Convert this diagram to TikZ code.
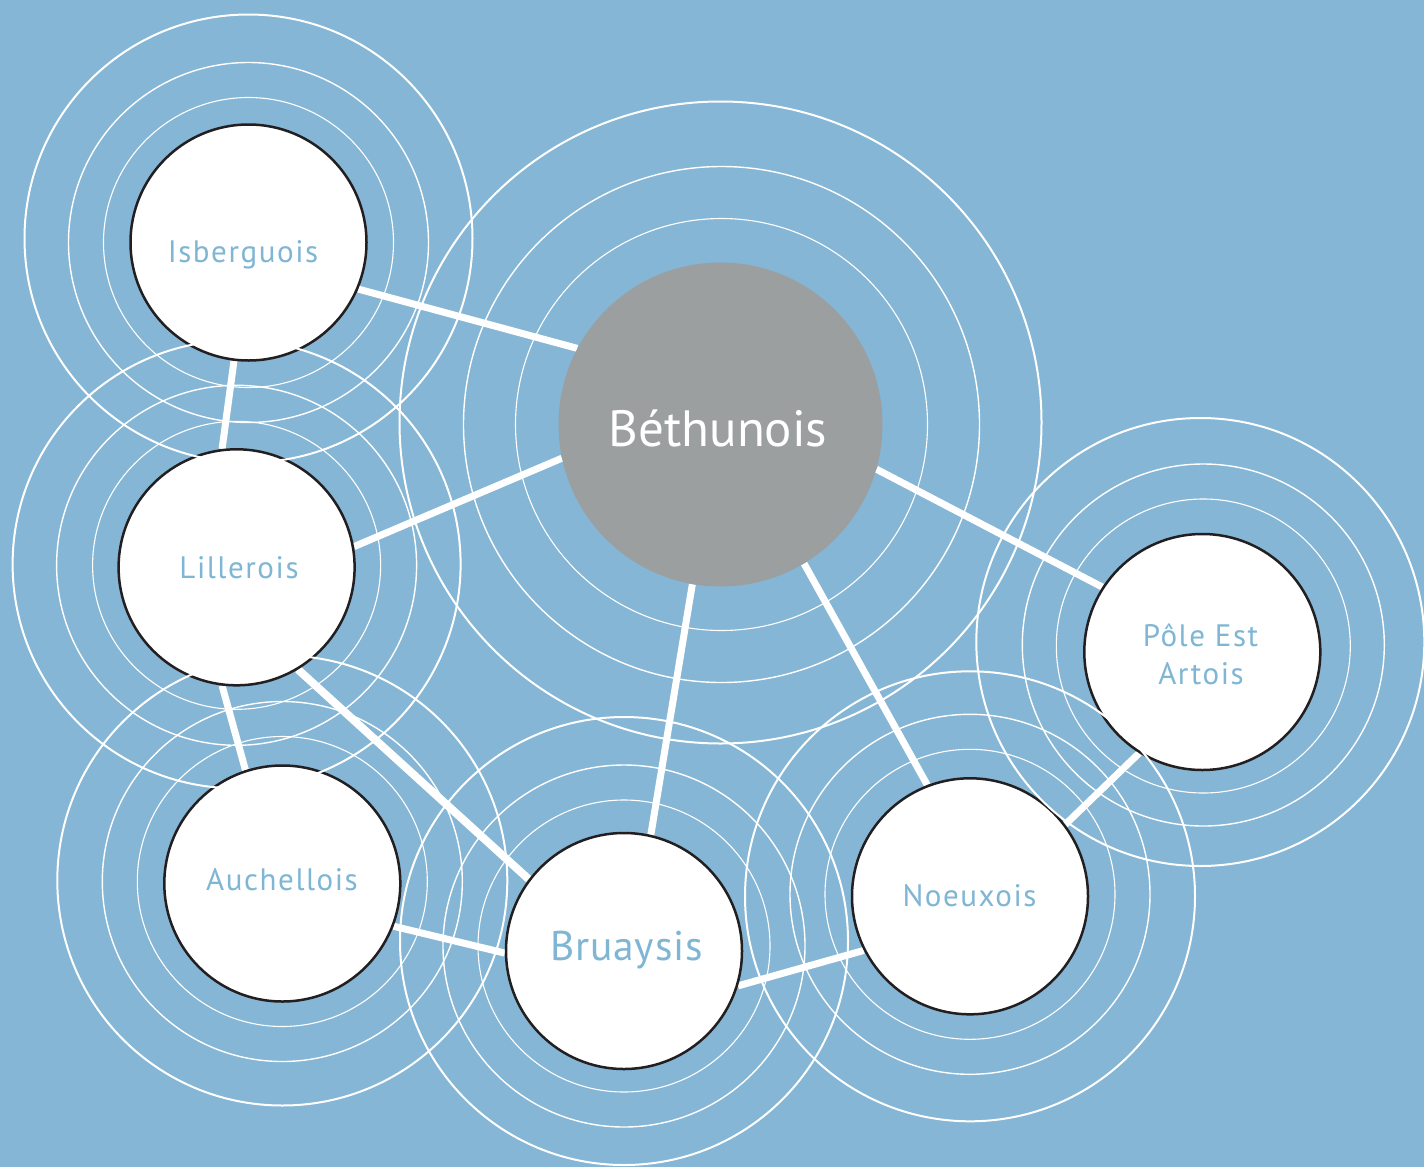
\documentclass[tikz,border=0pt]{standalone}
\usepackage{fontspec}
\setmainfont{PT Sans}
\newfontfamily\satfont[LetterSpace=5]{PT Sans}
\newfontfamily\brufont[LetterSpace=2]{PT Sans}
\definecolor{bgblue}{RGB}{133,182,213}
\definecolor{txtblue}{RGB}{127,182,212}
\definecolor{bethgray}{RGB}{155,159,160}
\definecolor{rimblack}{RGB}{35,31,32}
\pgfdeclarelayer{back}
\pgfdeclarelayer{links}
\pgfdeclarelayer{front}
\pgfsetlayers{back,links,main,front}
\begin{document}
\begin{tikzpicture}[x=1pt,y=-1pt,
  sat/.style={circle,fill=white,draw=rimblack,line width=2.5pt,minimum size=236pt,inner sep=0pt},
  hub/.style={circle,fill=bethgray,minimum size=324pt,inner sep=0pt},
  link/.style={white,line width=7pt},
  ringA/.style={white,line width=2pt},
  ringB/.style={white,line width=1.4pt},
  ringC/.style={white,line width=1.1pt},
  lab/.style={text=txtblue,font=\satfont\fontsize{31}{36}\selectfont,anchor=base,inner sep=0pt},
  biglab/.style={text=txtblue,font=\brufont\fontsize{41.5}{48}\selectfont,anchor=base,inner sep=0pt},
  hublab/.style={text=white,font=\fontsize{51}{60}\selectfont,anchor=base,inner sep=0pt},
]
\useasboundingbox (0,0) rectangle (1424,1167);
\begin{pgfonlayer}{back}
\fill[bgblue] (0,0) rectangle (1424,1167);
\end{pgfonlayer}

% circles
\node[hub] (beth) at (720.5,424.5) {};
\node[sat] (isb) at (248.5,242.5) {};
\node[sat] (lil) at (236.6,567.3) {};
\node[sat] (auch) at (282.3,883.5) {};
\node[sat] (bru) at (624,951) {};
\node[sat] (noeux) at (970,896.3) {};
\node[sat] (pole) at (1202.3,652) {};

% labels
\node[hublab] (betht) at (718,446) {Béthunois};
\node[lab] (isbt) at (243,262) {Isberguois};
\node[lab] (lilt) at (239,578.3) {Lillerois};
\node[lab] (aucht) at (282,890.7) {Auchellois};
\node[biglab] (brut) at (626.5,960.7) {Bruaysis};
\node[lab] (noeuxt) at (969.5,906) {Noeuxois};
\node[lab] (polet) at (1200.5,646) {Pôle Est};
\node[lab] (polet2) at (1201,684) {Artois};

% links
\begin{pgfonlayer}{links}
\draw[link] (isb.-23) -- (beth.152);
\draw[link] (isb.-97) -- (lil.97);
\draw[link] (lil.10) -- (beth.-168);
\draw[link] (lil.-97) -- (auch.108);
\draw[link,line width=8pt] (lil.-59) -- (bru.143);
\draw[link] (auch.-21) -- (bru.181);
\draw[link] (beth.-100) -- (bru.77);
\draw[link] (beth.-59.4) -- (noeux.111.7);
\draw[link] (beth.-16.2) -- (pole.147.4);
\draw[link] (pole.-122) -- (noeux.37.2);
\draw[link] (bru.-17.8) -- (noeux.-153.1);
\end{pgfonlayer}

% rings
\begin{pgfonlayer}{front}
\draw[ringA] ([yshift=2pt]beth.center) circle[radius=321pt];
\draw[ringB] ([xshift=1pt]beth.center) circle[radius=258pt];
\draw[ringC] ([xshift=1pt]beth.center) circle[radius=206pt];

\draw[ringA] ([yshift=4pt]isb.center) circle[radius=224pt];
\draw[ringB] (isb.center) circle[radius=180pt];
\draw[ringC] (isb.center) circle[radius=145pt];

\draw[ringA] ([yshift=3pt]lil.center) circle[radius=224pt];
\draw[ringB] ([yshift=2pt]lil.center) circle[radius=180pt];
\draw[ringC] ([yshift=2pt]lil.center) circle[radius=144pt];

\draw[ringA] ([yshift=3pt]auch.center) circle[radius=225pt];
\draw[ringB] ([yshift=2pt]auch.center) circle[radius=180pt];
\draw[ringC] ([yshift=2pt]auch.center) circle[radius=145pt];

\draw[ringA] ([yshift=10pt]bru.center) circle[radius=224pt];
\draw[ringB] ([yshift=5pt]bru.center) circle[radius=181pt];
\draw[ringC] ([yshift=5pt]bru.center) circle[radius=146pt];

\draw[ringA] (noeux.center) circle[radius=225pt];
\draw[ringB] ([yshift=2pt]noeux.center) circle[radius=180pt];
\draw[ringC] ([yshift=2pt]noeux.center) circle[radius=145pt];

\draw[ringA] ([yshift=10pt,xshift=-2pt]pole.center) circle[radius=224pt];
\draw[ringB] ([yshift=7pt,xshift=1pt]pole.center) circle[radius=181pt];
\draw[ringC] ([yshift=6pt,xshift=1pt]pole.center) circle[radius=147pt];
\end{pgfonlayer}
\end{tikzpicture}
\end{document}
